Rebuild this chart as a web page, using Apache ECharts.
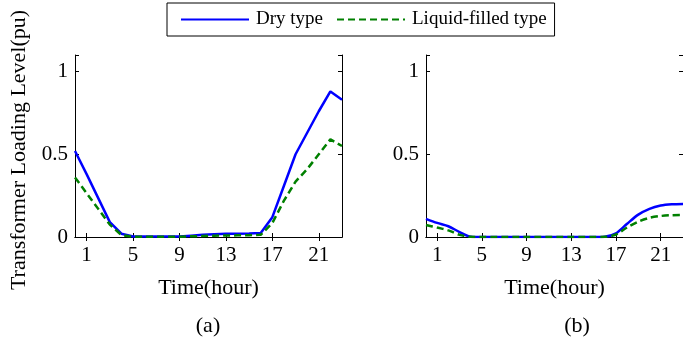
<!DOCTYPE html>
<html>
<head>
<meta charset="utf-8">
<script src="https://cdn.jsdelivr.net/npm/echarts@6/dist/echarts.min.js"></script>
<style>
  html, body { margin: 0; padding: 0; background: #fff; }
  #chart { width: 683px; height: 339px; }
</style>
</head>
<body>
<div id="chart"></div>
<script>
// hours 0..23, only 1,5,9,... get a label
let hours = ['0', '1', '2', '3', '4', '5', '6', '7', '8', '9', '10', '11',
  '12', '13', '14', '15', '16', '17', '18', '19', '20', '21', '22', '23'];
let yTicks = [0, 0.5, 1];

// (a)
let dryA = [0.52, 0.38, 0.235, 0.09, 0.02, 0.003, 0.003, 0.003, 0.003, 0.003, 0.008, 0.013,
  0.017, 0.02, 0.02, 0.021, 0.024, 0.12, 0.31, 0.5, 0.63, 0.76, 0.88, 0.83];
let liquidA = [0.36, 0.265, 0.17, 0.075, 0.012, 0.002, 0.002, 0.002, 0.002, 0.002, 0.004, 0.006,
  0.008, 0.009, 0.01, 0.011, 0.013, 0.085, 0.22, 0.335, 0.41, 0.5, 0.59, 0.55];
// (b)
let dryB = [0.11, 0.085, 0.065, 0.03, 0.002, 0, 0, 0, 0, 0, 0, 0,
  0, 0, 0, 0, 0.002, 0.022, 0.08, 0.135, 0.17, 0.19, 0.198, 0.2];
let liquidB = [0.073, 0.057, 0.04, 0.013, 0.001, 0, 0, 0, 0, 0, 0, 0,
  0, 0, 0, 0, 0.001, 0.015, 0.058, 0.093, 0.116, 0.127, 0.132, 0.133];

let seriesNames = ['Dry type', 'Liquid-filled type'];
let panelNames = ['(a)', '(b)'];

let font = 'Liberation Serif';
let showHour = function (index) {
  return index % 4 === 1;
};

function xAxes(gridIndex) {
  let base = {
    type: 'category',
    gridIndex: gridIndex,
    data: hours,
    boundaryGap: false,
    axisLine: { lineStyle: { color: '#000', width: 1 } },
    axisTick: { inside: true, length: 4, interval: showHour, lineStyle: { color: '#000' } },
    splitLine: { show: false },
  };
  return [
    Object.assign({}, base, {
      position: 'bottom',
      name: 'Time(hour)',
      nameLocation: 'middle',
      nameGap: 40,
      nameTextStyle: { fontFamily: font, fontSize: 22, color: '#000' },
      axisLabel: { interval: showHour, margin: 8, fontFamily: font, fontSize: 21, color: '#000' },
    }),
    Object.assign({}, base, { position: 'top', axisLabel: { show: false } }),
  ];
}

function yAxes(gridIndex) {
  let base = {
    type: 'value',
    gridIndex: gridIndex,
    min: 0,
    max: 1.1,
    interval: 0.5,
    axisLine: { show: true, lineStyle: { color: '#000', width: 1 } },
    axisTick: { show: true, inside: true, length: 4, lineStyle: { color: '#000' } },
    splitLine: { show: false },
  };
  return [
    Object.assign({}, base, {
      position: 'left',
      axisLabel: {
        margin: 7,
        fontFamily: font,
        fontSize: 21,
        color: '#000',
        padding: [0, 0, 6, 0],
        formatter: function (v) {
          return yTicks.indexOf(v) >= 0 ? String(v) : '';
        },
      },
    }),
    Object.assign({}, base, { position: 'right', axisLabel: { show: false } }),
  ];
}

function lineSeries(name, data, axisIndex, color, dashed, smooth) {
  return {
    name: name,
    type: 'line',
    xAxisIndex: axisIndex,
    yAxisIndex: axisIndex,
    data: data,
    symbol: 'none',
    smooth: smooth,
    lineStyle: { color: color, width: 2.5, type: dashed ? [7, 4] : 'solid' },
    itemStyle: { color: color },
    z: dashed ? 3 : 2,
  };
}

let chart = echarts.init(document.getElementById('chart'), null, { renderer: 'canvas' });

let option = {
  animation: false,
  backgroundColor: '#fff',
  legend: {
    data: seriesNames,
    left: 167,
    top: 3,
    padding: [7, 8, 7, 13],
    itemWidth: 68,
    itemHeight: 14,
    itemGap: 13,
    borderColor: '#000',
    borderWidth: 1,
    selectedMode: false,
    itemStyle: { opacity: 0 }, // hide the circle, keep the line
    textStyle: { fontFamily: font, fontSize: 19, color: '#000', padding: [0, 0, 0, 2] },
  },
  grid: [
    { left: 75, top: 55, width: 267, height: 182 },
    { left: 426, top: 55, width: 267, height: 182 },
  ],
  xAxis: xAxes(0).concat(xAxes(1)),
  yAxis: yAxes(0).concat(yAxes(1)),
  series: [
    lineSeries(seriesNames[0], dryA, 0, '#0000ff', false, false),
    lineSeries(seriesNames[1], liquidA, 0, '#008000', true, false),
    lineSeries(seriesNames[0], dryB, 2, '#0000ff', false, 0.3),
    lineSeries(seriesNames[1], liquidB, 2, '#008000', true, 0.3),
  ],
  graphic: [
    {
      type: 'text',
      x: 19,
      y: 150,
      rotation: Math.PI / 2,
      style: {
        text: 'Transformer Loading Level(pu)',
        font: '22px "Liberation Serif"',
        fill: '#000',
        align: 'center',
        verticalAlign: 'middle',
      },
    },
    {
      type: 'text',
      x: 208,
      y: 326,
      style: { text: panelNames[0], font: '22px "Liberation Serif"', fill: '#000', align: 'center', verticalAlign: 'middle' },
    },
    {
      type: 'text',
      x: 577,
      y: 326,
      style: { text: panelNames[1], font: '22px "Liberation Serif"', fill: '#000', align: 'center', verticalAlign: 'middle' },
    },
  ],
};

chart.setOption(option);
</script>
</body>
</html>
